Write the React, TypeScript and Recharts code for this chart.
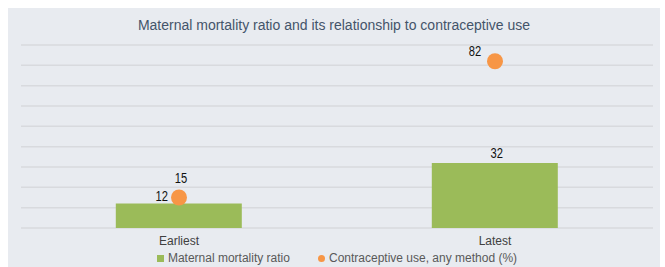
import { ComposedChart, Bar, Line, XAxis, YAxis, CartesianGrid, Legend, LabelList } from 'recharts';

const categories = ['Earliest', 'Latest'];
const maternalMortality = [12, 32];
const contraceptiveUse = [15, 82];
const yTicks = [0, 10, 20, 30, 40, 50, 60, 70, 80, 90];

const data = categories.map((name, i) => ({
  name,
  mmr: maternalMortality[i],
  cpr: contraceptiveUse[i],
}));

const SANS = '"Liberation Sans", Arial, sans-serif';
const GREEN = '#9BBB59';
const ORANGE = '#F79646';

// label nudges, the way they sit in the source chart
const barLabelShift = [[-17, -7], [2, -9]];
const dotLabelShift = [[2, -19], [-20, -10]];

// narrow look of the data labels: plain sans squeezed sideways
const NarrowText = ({ x, y, value }: { x: number; y: number; value: any }) => (
  <text
    transform={`translate(${x},${y}) scale(0.8,1)`}
    textAnchor="middle"
    dominantBaseline="central"
    fontFamily={SANS}
    fontSize={14}
    fill="#111"
  >
    {value}
  </text>
);

const renderBarLabel = (props: any) => {
  const { x, y, width, value, index } = props;
  const [dx, dy] = barLabelShift[index] || [0, -8];
  return <NarrowText x={x + width / 2 + dx} y={y + dy} value={value} />;
};

const renderDotLabel = (props: any) => {
  const { x, y, value, index } = props;
  const [dx, dy] = dotLabelShift[index] || [0, -18];
  return <NarrowText x={x + dx} y={y + dy} value={value} />;
};

const legendOrder = ['mmr', 'cpr'];
const legendColors: Record<string, string> = { mmr: GREEN, cpr: ORANGE };

const renderLegend = (props: any) => {
  const items = [...(props.payload || [])].sort(
    (a: any, b: any) => legendOrder.indexOf(a.dataKey) - legendOrder.indexOf(b.dataKey)
  );
  return (
    <div style={{ display: 'flex', justifyContent: 'center', alignItems: 'center', gap: 28, height: 16, fontFamily: SANS, fontSize: 12, color: '#595959' }}>
      {items.map((entry: any) => (
        <span key={entry.dataKey} style={{ display: 'flex', alignItems: 'center' }}>
          <span
            style={{
              display: 'inline-block',
              width: 7,
              height: 7,
              marginRight: 4,
              background: legendColors[entry.dataKey],
              borderRadius: entry.dataKey === 'cpr' ? '50%' : 0,
            }}
          />
          {entry.value}
        </span>
      ))}
    </div>
  );
};

export default function App() {
  return (
    <div style={{ position: 'absolute', top: 8, left: 8, width: 652, height: 259, background: '#E8EBF0', overflow: 'hidden' }}>
      <ComposedChart width={652} height={259} data={data} margin={{ top: 37, right: 7, left: 13, bottom: 1 }} barCategoryGap="30%">
        <CartesianGrid vertical={false} stroke="#D8DADE" strokeWidth={1.5} />
        <XAxis
          dataKey="name"
          height={22}
          axisLine={false}
          tickLine={false}
          tick={{ fontFamily: SANS, fontSize: 12, fill: '#404040' }}
        />
        <YAxis hide domain={[0, 90]} ticks={yTicks} interval={0} />
        <Legend verticalAlign="bottom" content={renderLegend} />
        <Bar dataKey="mmr" name="Maternal mortality ratio" fill={GREEN} isAnimationActive={false}>
          <LabelList dataKey="mmr" content={renderBarLabel} />
        </Bar>
        <Line
          dataKey="cpr"
          name="Contraceptive use, any method (%)"
          stroke="none"
          dot={{ r: 8, fill: ORANGE, stroke: 'none' }}
          activeDot={false}
          legendType="circle"
          isAnimationActive={false}
        >
          <LabelList dataKey="cpr" content={renderDotLabel} />
        </Line>
      </ComposedChart>
      <div style={{ position: 'absolute', top: 8, left: 0, width: '100%', textAlign: 'center', lineHeight: '18px', fontFamily: SANS, fontSize: 14, color: '#44546A' }}>
        Maternal mortality ratio and its relationship to contraceptive use
      </div>
    </div>
  );
}
